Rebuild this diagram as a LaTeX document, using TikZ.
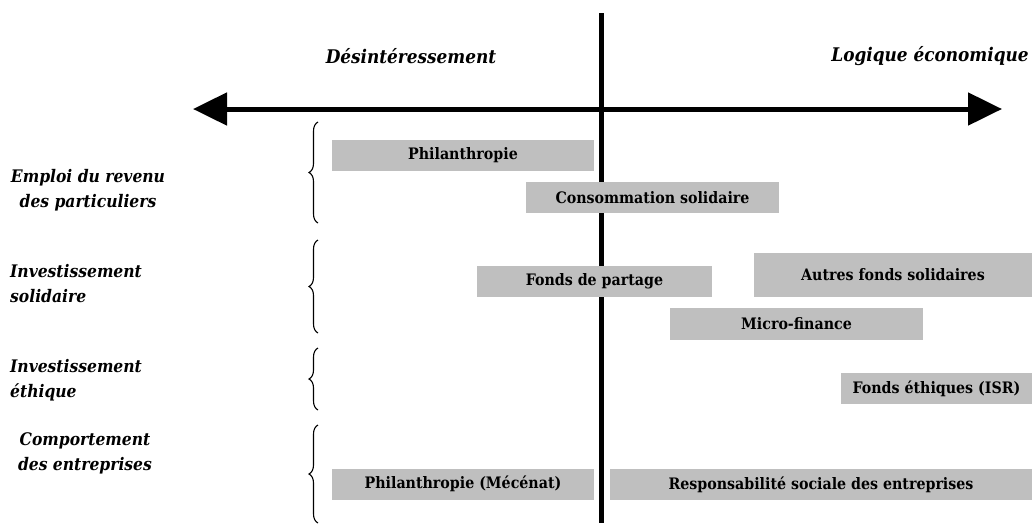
\documentclass[tikz,border=0pt]{standalone}
\usepackage{fontspec}
\setmainfont{DejaVu Serif Condensed}
\usetikzlibrary{decorations.pathreplacing,arrows.meta}
\definecolor{boxgray}{RGB}{191,191,191}
\begin{document}
\begin{tikzpicture}[x=1pt,y=-1pt,
  bx/.style={fill=boxgray, inner sep=0pt, font=\bfseries\fontsize{15.8}{18}\selectfont},
  lbl/.style={font=\bfseries\itshape\fontsize{17.3}{25}\selectfont, inner sep=0pt},
  axl/.style={font=\bfseries\itshape\fontsize{18.8}{22}\selectfont, inner sep=0pt},
  brc/.style={decorate, decoration={brace, amplitude=9pt}, line width=1.1pt},
  axis/.style={line width=5pt}]
\useasboundingbox (0,0) rectangle (1032,523);

% axes
\coordinate (L) at (193,109);
\coordinate (R) at (1002,109);
\coordinate (T) at (601.5,13);
\coordinate (B) at (601.5,523);
\draw[axis] (T) -- (B);
\draw[axis, {Triangle[length=34pt,width=32pt]}-{Triangle[length=34pt,width=32pt]}] (L) -- (R);

% axis labels
\node[axl] (des) at (411,56) {Désintéressement};
\node[axl] (log) at (930,56) {Logique économique};

% row labels
\node[lbl, align=center] (emp) at (88,190.5) {Emploi du revenu\\des particuliers};
\node[lbl, align=left, anchor=west] (isol) at (10,284) {Investissement\\solidaire};
\node[lbl, align=left, anchor=west] (ieth) at (10,380.5) {Investissement\\éthique};
\node[lbl, align=center] (comp) at (85,453.5) {Comportement\\des entreprises};

% braces
\coordinate (b1t) at (318,122); \coordinate (b1b) at (318,223);
\coordinate (b2t) at (318,240); \coordinate (b2b) at (318,333);
\coordinate (b3t) at (318,348); \coordinate (b3b) at (318,410);
\coordinate (b4t) at (318,425); \coordinate (b4b) at (318,523);
\draw[brc] (b1b) -- (b1t);
\draw[brc] (b2b) -- (b2t);
\draw[brc] (b3b) -- (b3t);
\draw[brc] (b4b) -- (b4t);

% boxes
\node[bx, minimum width=262pt, minimum height=31pt] (phil) at (463,155.5) {Philanthropie};
\node[bx, minimum width=253pt, minimum height=31pt] (cons) at (652.5,197.5) {Consommation solidaire};
\node[bx, minimum width=235pt, minimum height=31pt] (fdp) at (594.5,281.5) {Fonds de partage};
\node[bx, minimum width=278pt, minimum height=44pt] (afs) at (893,275) {Autres fonds solidaires};
\node[bx, minimum width=253pt, minimum height=32pt] (mf) at (796.5,324) {Micro-finance};
\node[bx, minimum width=191pt, minimum height=31pt] (feth) at (936.5,388.5) {Fonds éthiques (ISR)};
\node[bx, minimum width=262pt, minimum height=31pt] (mec) at (463,484) {Philanthropie (Mécénat)};
\node[bx, minimum width=422pt, minimum height=31pt] (rse) at (821,484.5) {Responsabilité sociale des entreprises};
\end{tikzpicture}
\end{document}
